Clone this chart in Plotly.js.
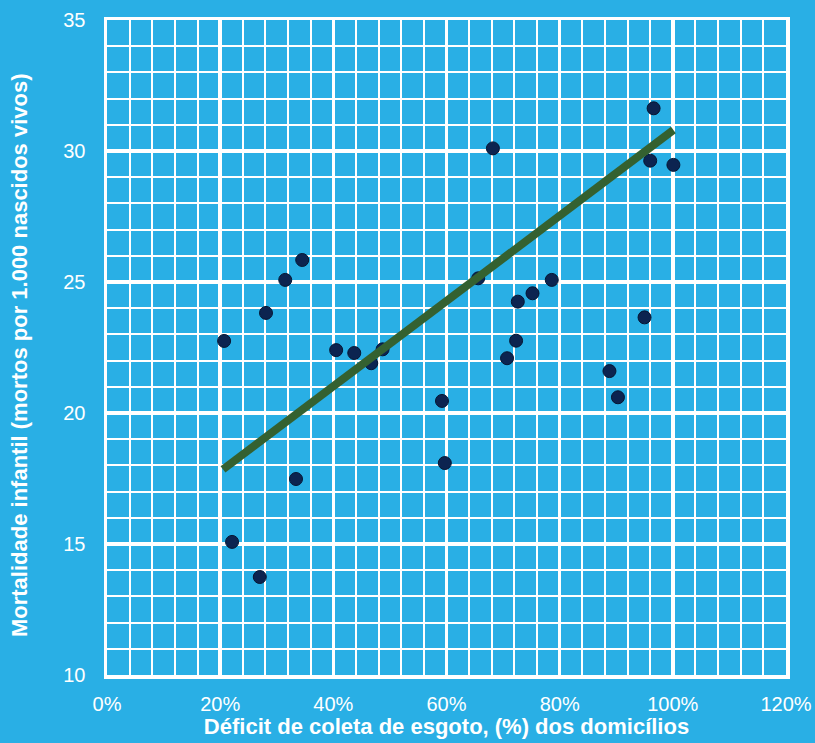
<!DOCTYPE html>
<html>
<head>
<meta charset="utf-8">
<script src="https://cdn.plot.ly/plotly-3.0.1.min.js"></script>
<style>html,body{margin:0;padding:0;background:#29afe5;}#chart{width:815px;height:743px;}</style>
</head>
<body>
<div id="chart"></div>
<script>
const deficitEsgoto = [0.207,0.221,0.270,0.281,0.315,0.345,0.334,0.405,0.437,0.467,0.487,0.592,0.597,0.656,0.682,0.707,0.723,0.726,0.752,0.786,0.888,0.903,0.950,0.960,0.966,1.001];
const mortalidade = [22.75,15.08,13.74,23.82,25.08,25.84,17.48,22.40,22.29,21.90,22.43,20.46,18.09,25.14,30.10,22.09,22.76,24.25,24.57,25.08,21.60,20.60,23.65,29.63,31.63,29.47];
const trendX = [0.205, 1.001];
const trendY = [17.85, 30.80];
const xTitle = "Déficit de coleta de esgoto, (%) dos domicílios";
const yTitle = "Mortalidade infantil (mortos por 1.000 nascidos vivos)";

const bg = '#29afe5';
const font = 'Liberation Sans, Arial, sans-serif';

const data = [
  {x: deficitEsgoto, y: mortalidade, type: 'scatter', mode: 'markers',
   marker: {size: 13, color: '#0c2450', line: {color: '#061633', width: 1}}, hoverinfo: 'x+y'},
  {x: trendX, y: trendY, type: 'scatter', mode: 'lines',
   line: {color: '#346130', width: 8}, hoverinfo: 'skip'}
];

const layout = {
  width: 815, height: 743,
  paper_bgcolor: bg, plot_bgcolor: bg,
  showlegend: false,
  margin: {l: 107, r: 29, t: 20, b: 68},
  font: {family: font, color: '#ffffff', size: 20},
  xaxis: {
    range: [0, 1.2], dtick: 0.2, tick0: 0, tickformat: '.0%',
    showgrid: true, gridcolor: '#ffffff', gridwidth: 3.5,
    minor: {dtick: 0.04, showgrid: true, gridcolor: '#ffffff', gridwidth: 2},
    showline: true, linecolor: '#ffffff', linewidth: 3.5, mirror: true,
    zeroline: false, ticks: '', ticklabelstandoff: 8,
    tickfont: {family: font, size: 20, color: '#ffffff'},
    title: {text: xTitle, font: {family: font, size: 22, color: '#ffffff', weight: 'bold'}, standoff: 6}
  },
  yaxis: {
    range: [10, 35], dtick: 5, tick0: 10,
    showgrid: true, gridcolor: '#ffffff', gridwidth: 3.5,
    minor: {dtick: 1, showgrid: true, gridcolor: '#ffffff', gridwidth: 2},
    showline: true, linecolor: '#ffffff', linewidth: 3.5, mirror: true,
    zeroline: false, ticks: '', ticklabelstandoff: 14,
    tickfont: {family: font, size: 20, color: '#ffffff'}
  },
  annotations: [{
    text: yTitle, textangle: -90, showarrow: false,
    xref: 'paper', yref: 'paper', x: -0.1296, y: 0.4885,
    xanchor: 'center', yanchor: 'middle',
    font: {family: font, size: 22, color: '#ffffff', weight: 'bold'}
  }]
};

Plotly.newPlot('chart', data, layout, {displayModeBar: false, staticPlot: true});
</script>
</body>
</html>
